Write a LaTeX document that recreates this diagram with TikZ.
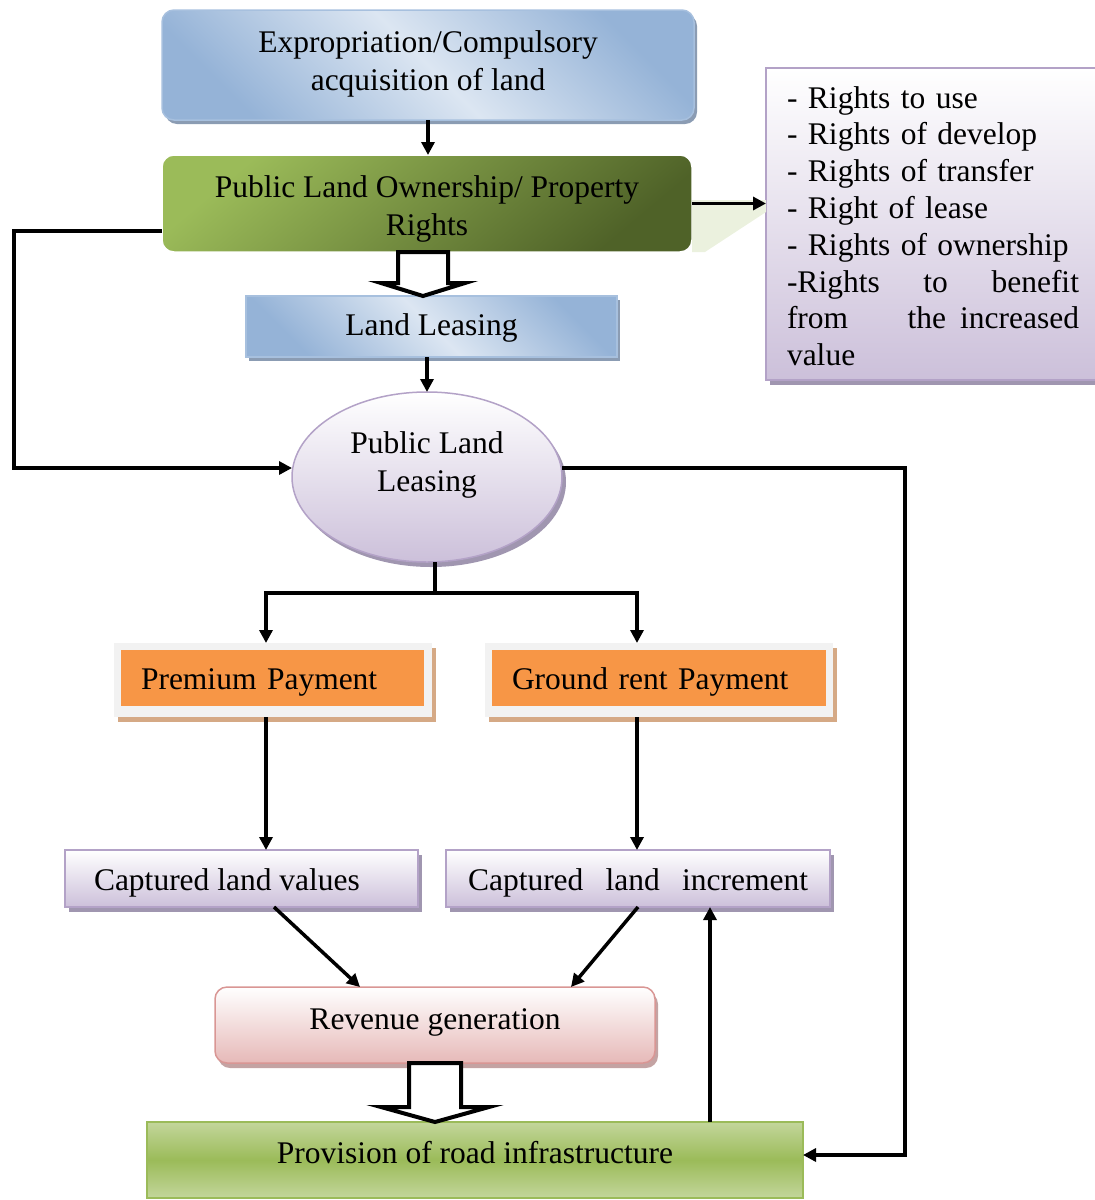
\documentclass[tikz,border=0pt]{standalone}
\usepackage{fontspec}
\setmainfont{Liberation Serif}
\usetikzlibrary{arrows.meta,shapes.geometric,shadows,calc}
\definecolor{blueA}{HTML}{95B3D7}
\definecolor{blueB}{HTML}{DCE6F2}
\definecolor{blueEdge}{HTML}{A7C0DE}
\definecolor{blueShadow}{HTML}{8B9CB3}
\definecolor{greenA}{HTML}{9BBB59}
\definecolor{greenB}{HTML}{4F6228}
\definecolor{lav}{HTML}{CCC0DA}
\definecolor{lavEdge}{HTML}{B3A2C7}
\definecolor{lavShadow}{HTML}{A096B0}
\definecolor{orangeF}{HTML}{F79646}
\definecolor{frameF}{HTML}{F2F2F2}
\definecolor{tanShadow}{HTML}{D5A985}
\definecolor{pinkF}{HTML}{E6B9B8}
\definecolor{pinkEdge}{HTML}{D99694}
\definecolor{pinkShadow}{HTML}{C4A3A3}
\definecolor{provA}{HTML}{C3D69B}
\definecolor{wedgeF}{HTML}{EBF1DE}
\newcommand{\lift}[2]{\raisebox{#1}[0pt][0pt]{#2}}
\newcommand{\twoline}[2]{\begin{tabular}[t]{@{}c@{}}#1\\[1.5pt]#2\end{tabular}}
\begin{document}
\begin{tikzpicture}[x=1pt,y=-1pt,
  font=\fontsize{31.5}{36.5}\selectfont,
  every node/.style={inner sep=0pt, outer sep=0pt},
  bluebox/.style={draw=blueEdge, line width=1.5pt, top color=blueA, bottom color=blueA, middle color=blueB, shading angle=-45,
    general shadow={fill=blueShadow, shadow xshift=3pt, shadow yshift=-4pt}},
  greenbox/.style={draw=white, line width=1.5pt, rounded corners=12pt, top color=greenA, bottom color=greenB, shading angle=40},
  purpbox/.style={draw=lavEdge, line width=1.5pt, top color=white, bottom color=lav,
    general shadow={fill=lavShadow, shadow xshift=4pt, shadow yshift=-5pt}},
  framebox/.style={fill=frameF, general shadow={fill=tanShadow, shadow xshift=4pt, shadow yshift=-5pt}},
  orangebox/.style={fill=orangeF, align=left, inner xsep=20pt},
  pinkbox/.style={draw=pinkEdge, line width=1.5pt, rounded corners=12pt, top color=white, bottom color=pinkF,
    general shadow={fill=pinkShadow, shadow xshift=3pt, shadow yshift=-5pt}},
  provbox/.style={draw=greenA, line width=1.5pt, top color=provA, bottom color=provA, middle color=greenA},
  conn/.style={line width=3.5pt},
  arr/.style={line width=3.5pt, -{Triangle[length=13pt,width=13pt]}},
  blockarr/.style={line width=4pt, fill=white, line join=miter}
]
\useasboundingbox (0,0) rectangle (1095,1200);
\clip (0,0) rectangle (1095,1200);

% boxes
\node[bluebox, rounded corners=12pt, minimum width=532pt, minimum height=110pt] (expro) at (428,65)
  {\lift{12.6pt}{\twoline{Expropriation/Compulsory}{acquisition of land}}};
\node[greenbox, minimum width=530pt, minimum height=97pt] (own) at (427,203.5)
  {\lift{6.1pt}{\twoline{Public Land Ownership/ Property}{Rights}}};
\node[purpbox, minimum width=334pt, minimum height=312pt, text width=292pt, inner xsep=21pt, align=left,
  font=\fontsize{31.5}{36.8}\selectfont] (rights) at (933,224)
  {\rule{0pt}{26pt}- Rights to use\\- Rights of develop\\- Rights of transfer\\- Right of lease\\- Rights of ownership\\
   \makebox[292pt][l]{-Rights\hfill to\hfill benefit}\\\makebox[292pt][l]{from\hfill the\hspace{14pt}increased}\\value};
\node[bluebox, minimum width=371pt, minimum height=61pt] (lease) at (431.5,326.5) {\lift{-8.9pt}{Land Leasing}};
\node[purpbox, ellipse, minimum width=270pt, minimum height=170pt] (ell) at (427,477)
  {\lift{23.6pt}{\twoline{Public Land}{Leasing}}};
\node[framebox, minimum width=318pt, minimum height=74pt] (premf) at (273,680) {};
\node[orangebox, minimum height=56pt, text width=263pt] (prem) at (272.5,678) {\lift{-11.4pt}{Premium Payment}};
\node[framebox, minimum width=348pt, minimum height=74pt] (gndf) at (659,680) {};
\node[orangebox, minimum height=56pt, text width=294pt] (gnd) at (659,678) {\lift{-11.4pt}{Ground rent Payment}};
\node[purpbox, minimum width=353pt, minimum height=57pt] (clv) at (241.5,878.5)
  {\lift{-11.9pt}{\makebox[295pt][l]{Captured land values}}};
\node[purpbox, minimum width=384pt, minimum height=57pt] (cli) at (638,878.5)
  {\lift{-11.9pt}{\makebox[340pt][s]{Captured land increment}}};
\node[pinkbox, minimum width=440pt, minimum height=76pt] (rev) at (435,1025)
  {\lift{-4.4pt}{Revenue generation}};
\node[provbox, minimum width=656pt, minimum height=76pt] (prov) at (475,1160)
  {\lift{-3.4pt}{Provision of road infrastructure}};

% callout wedge
\fill[wedgeF] ($(own.south east)+(0,-52)$) -- ($(rights.west)+(0,-24)$) -- ($(rights.west)+(0,-12)$)
  -- ($(own.south east)+(13,0)$) -- (own.south east) -- cycle;

% connectors
\draw[arr] (expro.south) -- (expro.south |- own.north);
\draw[arr] (own.east) -- (rights.west |- own.east);
\coordinate (t1) at ($(own.south)+(-4,0)$);
\draw[blockarr] ($(t1)+(-25,0)$) -- ($(t1)+(-25,31)$) -- ($(t1)+(-42,31)$) -- (t1 |- lease.north)
  -- ($(t1)+(42,31)$) -- ($(t1)+(25,31)$) -- ($(t1)+(25,0)$) -- cycle;
\draw[arr] (ell.north |- lease.south) -- (ell.north);

\coordinate (la) at ([yshift=-27.5pt]own.west);
\coordinate (lc) at (14,468);
\draw[arr] (la) -| (lc) -- ([yshift=9pt]ell.west);
\coordinate (rc) at (905,468);
\draw[arr] ([yshift=9pt]ell.east) -- (rc) |- ([yshift=5pt]prov.east);

\coordinate (es) at ([xshift=8pt]ell.south);
\coordinate (fl) at (266,593);
\coordinate (fr) at (637,593);
\draw[conn] (es) -- (es |- fl);
\draw[arr] (es |- fl) -- (fl) -- (fl |- premf.north);
\draw[arr] (es |- fl) -- (fr) -- (fr |- gndf.north);

\draw[arr] (fl |- premf.south) -- (fl |- clv.north);
\draw[arr] (fr |- gndf.south) -- (fr |- cli.north);
\draw[arr] ($(clv.south)+(32.5,0)$) -- ($(rev.north west)+(145,0)$);
\draw[arr] (cli.south) -- ($(rev.north east)+(-84,0)$);

\coordinate (t2) at (rev.south);
\draw[blockarr] ($(t2)+(-26,0)$) -- ($(t2)+(-26,44)$) -- ($(t2)+(-54,44)$) -- (t2 |- prov.north)
  -- ($(t2)+(54,44)$) -- ($(t2)+(26,44)$) -- ($(t2)+(26,0)$) -- cycle;

\coordinate (pu) at ($(prov.north east)+(-93,0)$);
\draw[arr] (pu) -- (pu |- cli.south);
\end{tikzpicture}
\end{document}
